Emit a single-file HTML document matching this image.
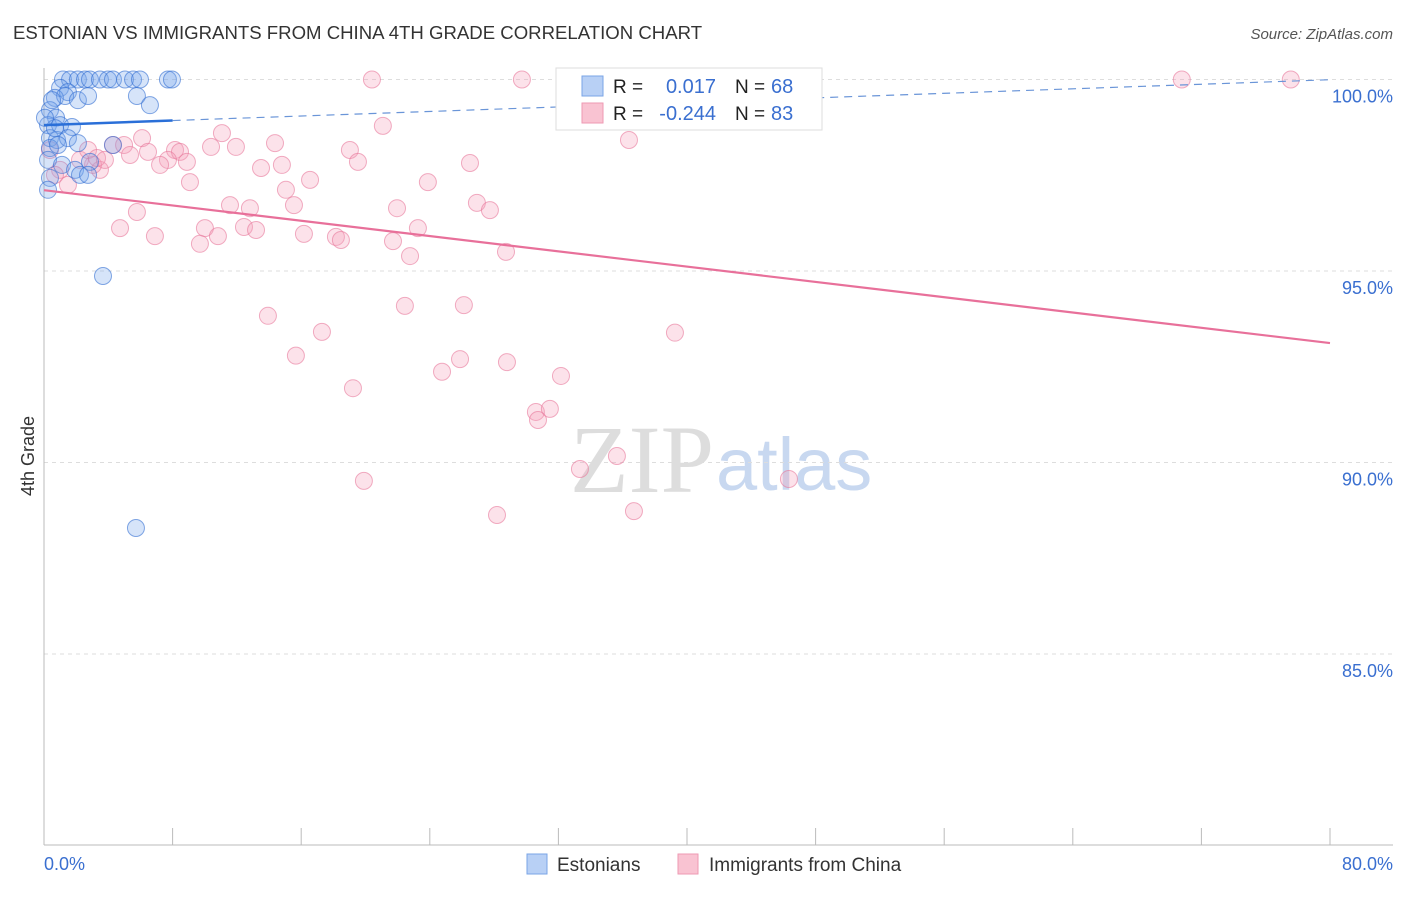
<!DOCTYPE html>
<html><head><meta charset="utf-8"><style>
body{margin:0;background:#fff;font-family:"Liberation Sans",sans-serif}
</style></head><body>
<svg id="c" width="1406" height="892" xmlns="http://www.w3.org/2000/svg">
<text x="13" y="39" font-size="18.6" fill="#333">ESTONIAN VS IMMIGRANTS FROM CHINA 4TH GRADE CORRELATION CHART</text>
<text x="1393" y="39" font-size="15" fill="#555" font-style="italic" text-anchor="end">Source: ZipAtlas.com</text>
<text x="34" y="456" font-size="18" fill="#333" transform="rotate(-90 34 456)" text-anchor="middle">4th Grade</text>
<text x="714" y="492" font-size="96" fill="#ddd" font-family="Liberation Serif,serif" text-anchor="end">ZIP</text>
<text x="716" y="490" font-size="74" fill="#c8d8f0">atlas</text>
<g id="grid"></g><g id="pts"></g><g id="lines"></g>
<g>
<rect x="556" y="68" width="266" height="62" fill="#fff" stroke="#ddd"/>
<rect x="582" y="76" width="21" height="20" fill="#b8d0f5" stroke="#7aa4e6"/>
<rect x="582" y="103" width="21" height="20" fill="#f9c3d2" stroke="#ee9ab3"/>
<text x="613" y="93" font-size="19" fill="#222">R =</text>
<text x="716" y="93" font-size="20" fill="#3a6fd0" text-anchor="end">0.017</text>
<text x="735" y="93" font-size="19" fill="#222">N =</text><text x="771" y="93" font-size="20" fill="#3a6fd0">68</text>
<text x="613" y="120" font-size="19" fill="#222">R =</text>
<text x="716" y="120" font-size="20" fill="#3a6fd0" text-anchor="end">-0.244</text>
<text x="735" y="120" font-size="19" fill="#222">N =</text><text x="771" y="120" font-size="20" fill="#3a6fd0">83</text>
</g>
<g>
<rect x="527" y="854" width="20" height="20" fill="#b8d0f5" stroke="#7aa4e6"/>
<text x="557" y="871" font-size="19" fill="#333">Estonians</text>
<rect x="678" y="854" width="20" height="20" fill="#f9c3d2" stroke="#ee9ab3"/>
<text x="709" y="871" font-size="19" fill="#333">Immigrants from China</text>
</g>
</svg>
<script>
const xTicks=[0,8,16,24,32,40,48,56,64,72,80];
const yTicks=[100,95,90,85];
const yTickLabels=["100.0%","95.0%","90.0%","85.0%"];
const estX=[1.18,1.62,2.11,2.55,2.86,3.48,3.98,4.29,5.04,5.54,5.97,7.71,7.96,1.0,1.49,0.68,1.31,2.11,2.74,5.78,6.59,0.37,0.75,0.25,1.0,1.74,0.37,0.81,1.49,2.11,0.37,0.87,0.25,1.12,1.93,2.86,4.29,2.24,2.74,0.37,0.25,3.67,5.72,0.68,0.06,0.5];
const estY=[100,100,100,100,100,100,100,100,100,100,100,100,100,99.78,99.67,99.52,99.57,99.46,99.57,99.57,99.33,99.2,99.0,98.81,98.81,98.76,98.47,98.42,98.47,98.34,98.21,98.29,97.9,97.77,97.64,97.85,98.29,97.51,97.51,97.43,97.12,94.87,88.29,98.73,99.0,99.46];
const chnX=[20.4,29.73,32.97,70.78,77.56,21.08,36.39,6.1,11.07,14.37,4.29,4.98,6.47,8.15,8.46,10.39,11.94,19.03,5.35,7.71,8.89,7.22,14.8,13.5,19.53,26.5,3.48,1.0,1.49,9.08,16.55,15.05,23.88,26.93,27.74,11.57,12.81,15.55,21.96,5.78,4.73,10.01,12.44,13.19,23.26,6.9,10.82,16.17,18.16,18.47,21.71,9.7,28.74,22.77,13.93,22.45,26.12,39.25,17.29,15.67,25.88,24.76,28.8,32.16,19.22,30.6,31.47,30.73,33.34,35.64,19.9,46.34,28.18,36.7,3.05,2.24,0.37,0.68,2.74,3.3,3.79];
const chnY=[100,100,100,100,100,98.79,98.42,98.47,98.6,98.34,98.29,98.29,98.11,98.16,98.11,98.24,98.24,98.16,98.03,97.9,97.85,97.77,97.77,97.69,97.85,97.82,97.64,97.64,97.25,97.32,97.38,97.12,97.32,96.78,96.59,96.72,96.64,96.72,96.64,96.54,96.12,96.12,96.15,96.07,96.12,95.91,95.91,95.97,95.89,95.81,95.78,95.71,95.5,95.39,93.83,94.09,94.11,93.39,93.41,92.79,92.7,92.37,92.62,92.26,91.94,91.32,91.4,91.11,89.83,90.17,89.52,89.57,88.63,88.73,97.77,97.9,98.16,97.51,98.16,97.95,97.9];
const estTrend=[98.81,0.0148];
const chnTrend=[97.11,-0.0499];
const NS="http://www.w3.org/2000/svg";
const X=v=>44+v/80*1286, Y=v=>79.5+(100-v)*38.3;
function mk(t,a,p){const e=document.createElementNS(NS,t);for(const k in a)e.setAttribute(k,a[k]);document.getElementById(p).appendChild(e);return e;}
yTicks.forEach((t,i)=>{
 const g=mk('line',{x1:44,x2:1393,y1:Y(t),y2:Y(t),stroke:'#ddd','stroke-dasharray':'4,4'},'grid');
 
 
 const l=mk('text',{x:1393,y:Y(t)+23,'font-size':18,fill:'#3a6fd0','text-anchor':'end'},'grid');
 l.textContent=yTickLabels[i];
 
 
});
mk('line',{x1:44,x2:44,y1:68,y2:845,stroke:'#bbb'},'grid');
mk('line',{x1:44,x2:1393,y1:845,y2:845,stroke:'#bbb'},'grid');
xTicks.forEach(t=>{const e=mk('line',{x1:X(t),x2:X(t),y1:828,y2:845,stroke:'#bbb'},'grid');
 
 });
const xl=mk('text',{x:44,y:870,'font-size':18,fill:'#3a6fd0'},'grid');xl.textContent=xTicks[0].toFixed(1)+'%';


const xr=mk('text',{x:1393,y:870,'font-size':18,fill:'#3a6fd0','text-anchor':'end'},'grid');xr.textContent=xTicks[10].toFixed(1)+'%';


chnX.forEach((x,i)=>{const c=mk('circle',{cx:X(x),cy:Y(chnY[i]),r:8.5,fill:'rgba(246,160,186,0.3)',stroke:'rgba(232,120,155,0.6)'},'pts');
 
 });
estX.forEach((x,i)=>{const c=mk('circle',{cx:X(x),cy:Y(estY[i]),r:8.5,fill:'rgba(120,165,235,0.3)',stroke:'rgba(50,110,210,0.6)'},'pts');
 
 });
const ty=(tr,x)=>tr[0]+tr[1]*x;
let e=mk('line',{x1:X(0),y1:Y(ty(estTrend,0)),x2:X(8),y2:Y(ty(estTrend,8)),stroke:'#2a6fd8','stroke-width':2.5},'lines');


e=mk('line',{x1:X(8),y1:Y(ty(estTrend,8)),x2:X(80),y2:Y(ty(estTrend,80)),stroke:'#6a95d8','stroke-width':1.2,'stroke-dasharray':'8,6'},'lines');


e=mk('line',{x1:X(0),y1:Y(ty(chnTrend,0)),x2:X(80),y2:Y(ty(chnTrend,80)),stroke:'#e8709a','stroke-width':2.2},'lines');


</script>
</body></html>
